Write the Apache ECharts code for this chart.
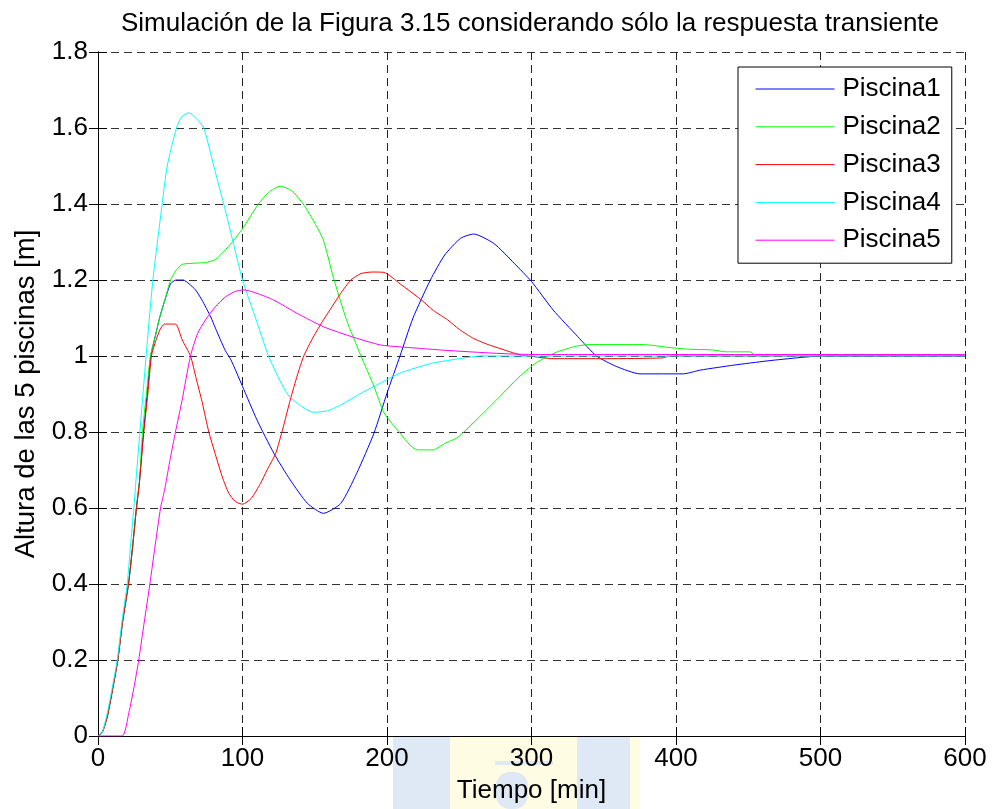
<!DOCTYPE html>
<html>
<head>
<meta charset="utf-8">
<title>Piscinas</title>
<script src="https://cdn.jsdelivr.net/npm/echarts@6/dist/echarts.min.js"></script>
<style>
  html, body { margin: 0; padding: 0; background: #fff; }
  #chart { width: 993px; height: 809px; }
</style>
</head>
<body>
<div id="chart"></div>
<script>
// tick labels of the axes
var xTicks = [0, 100, 200, 300, 400, 500, 600];
var yTicks = [0, 0.2, 0.4, 0.6, 0.8, 1, 1.2, 1.4, 1.6, 1.8];

var seriesNames = ["Piscina1", "Piscina2", "Piscina3", "Piscina4", "Piscina5"];

// [tiempo (min), altura (m)]
var piscina1 = [[0,0],[3,0.01],[6.4,0.05],[9,0.1],[13.7,0.2],[17,0.3],[21.1,0.4],[24,0.5],[26.6,0.6],[28.7,0.67],
  [31.5,0.8],[34,0.9],[36.5,1.0],[39.5,1.05],[42.6,1.1],[46.5,1.15],[50.2,1.19],[54,1.2],[59,1.2],[63,1.19],
  [67.5,1.174],[72,1.147],[78,1.103],[81.3,1.073],[88,1.015],[92,0.99],[100,0.92],[110,0.832],[121.7,0.744],
  [133,0.674],[145,0.612],[156,0.586],[168,0.612],[179,0.691],[191,0.797],[200,0.902],[209,1.0],[218,1.1],
  [230,1.2],[240,1.266],[251,1.31],[260,1.321],[274,1.296],[288,1.244],[300,1.196],[315,1.121],[332,1.051],
  [345,1.0],[359,0.972],[375,0.953],[405,0.953],[417,0.963],[440,0.976],[463,0.987],[486,0.996],[500,1.0],[600,1.0]];

var piscina2 = [[0,0],[3,0.01],[6.4,0.05],[9,0.1],[13.7,0.2],[17,0.3],[21.1,0.4],[24,0.5],[26.6,0.6],[28.7,0.67],
  [30.8,0.8],[33.5,0.9],[36.3,1.0],[39.5,1.05],[42.6,1.1],[46.5,1.15],[50.2,1.2],[54,1.225],[58.3,1.241],
  [65,1.244],[74.4,1.246],[81.3,1.254],[87,1.275],[93,1.3],[100,1.335],[111,1.4],[118,1.43],[126,1.447],
  [134,1.435],[142,1.4],[150,1.35],[156,1.305],[163,1.205],[172,1.095],[182,1.0],[191,0.92],[198,0.85],
  [209,0.797],[216,0.765],[221,0.753],[232,0.753],[240,0.77],[249,0.786],[264,0.84],[278,0.893],[290,0.94],
  [302,0.979],[310,0.997],[318,1.011],[330,1.025],[339,1.03],[378,1.03],[394,1.023],[408,1.018],[425,1.016],
  [435,1.011],[451,1.011],[455,1.003],[600,1.003]];

var piscina3 = [[0,0],[3,0.01],[6.4,0.05],[9,0.1],[13.7,0.2],[17,0.3],[21.1,0.4],[24,0.5],[26.6,0.6],[28.5,0.66],
  [31.7,0.8],[34.5,0.9],[37,1.0],[40,1.04],[43,1.07],[46,1.084],[53.6,1.084],[58.3,1.042],[64,1.0],[68,0.94],
  [72,0.88],[76.7,0.8],[81.3,0.74],[86,0.682],[90.5,0.639],[95,0.617],[100,0.61],[106,0.625],[112.5,0.665],
  [117,0.7],[123,0.744],[128,0.81],[133,0.884],[138,0.95],[142.4,1.0],[149,1.05],[156,1.095],[162,1.13],
  [168,1.165],[175,1.2],[182,1.217],[190,1.221],[198,1.22],[209,1.19],[223,1.15],[232,1.12],[242,1.095],
  [250,1.07],[260,1.046],[270,1.03],[278,1.02],[292,1.003],[302,0.998],[315,0.993],[352,0.993],[391,0.995],
  [395,1.0],[600,1.0]];

var piscina4 = [[0,0],[3,0.01],[6.4,0.06],[8.7,0.104],[13.3,0.2],[16.7,0.305],[20.2,0.4],[22.5,0.5],[24.8,0.6],
  [26,0.66],[29,0.8],[33.3,1.0],[38,1.2],[44.4,1.4],[47.9,1.5],[54.3,1.6],[58,1.63],[63,1.64],[68,1.625],
  [73.2,1.6],[80.1,1.5],[87,1.4],[93.5,1.3],[100,1.2],[109,1.1],[118,1.0],[124,0.95],[131,0.9],[138,0.875],
  [149,0.852],[158,0.855],[168,0.871],[182,0.902],[195,0.928],[209,0.955],[230,0.98],[245,0.99],[265,1.0],[600,1.0]];

var piscina5 = [[0,0],[16.7,0],[21.3,0.06],[25,0.13],[28.2,0.2],[32,0.3],[35.9,0.4],[39.5,0.5],[43.3,0.6],
  [46.2,0.65],[50,0.73],[53.6,0.8],[58,0.88],[64,1.0],[69,1.06],[74.4,1.095],[81.3,1.13],[88,1.155],[95,1.17],
  [101,1.174],[110,1.165],[121.7,1.147],[137.9,1.112],[156,1.077],[177,1.049],[195.5,1.029],[209,1.024],
  [223,1.02],[240,1.015],[276,1.007],[300,1.004],[600,1.004]];

var allData = [piscina1, piscina2, piscina3, piscina4, piscina5];
var colors = ["#0000ff", "#00ff00", "#ff0000", "#00ffff", "#ff00ff"];

var font = "Liberation Sans, Arial, Helvetica, sans-serif";

var chart = echarts.init(document.getElementById("chart"), null, { renderer: "canvas" });

var series = [];
var legendData = [];
for (var i = 0; i < allData.length; i++) {
  series.push({
    name: seriesNames[i],
    type: "line",
    data: allData[i],
    symbol: "none",
    smooth: 0.2,
    lineStyle: { color: colors[i], width: 1 },
    itemStyle: { color: colors[i] },
    animation: false
  });
  legendData.push({
    name: seriesNames[i],
    itemStyle: { color: colors[i], opacity: 0 }, // only the line, no marker
    lineStyle: { color: colors[i], width: 1 }
  });
}

var option = {
  backgroundColor: "#fff",
  animation: false,
  title: {
    text: "Simulación de la Figura 3.15 considerando sólo la respuesta transiente",
    left: 116,
    top: 6,
    textStyle: { fontFamily: font, fontSize: 26, fontWeight: "normal", color: "#000" }
  },
  legend: {
    orient: "vertical",
    left: 738,
    top: 67,
    padding: [9, 11, 10, 17],
    itemWidth: 79,
    itemHeight: 26,
    itemGap: 11.8,
    backgroundColor: "#fff",
    borderColor: "#000",
    borderWidth: 1,
    borderRadius: 0,
    data: legendData,
    textStyle: { fontFamily: font, fontSize: 26, color: "#000", padding: [0, 0, 0, 3] }
  },
  grid: { left: 98, right: 28, top: 52, bottom: 73, containLabel: false },
  xAxis: [{
    type: "value",
    min: xTicks[0],
    max: xTicks[xTicks.length - 1],
    interval: 100,
    name: "Tiempo [min]",
    nameLocation: "middle",
    nameGap: 42,
    nameTextStyle: { fontFamily: font, fontSize: 26, color: "#000" },
    axisLine: { lineStyle: { color: "#000", width: 1 } },
    axisTick: { inside: true, length: 9, lineStyle: { color: "#000" } },
    axisLabel: { fontFamily: font, fontSize: 26, color: "#000", margin: 10 },
    splitLine: { show: true, lineStyle: { color: "#222", type: [8, 5], width: 1 } }
  }, {
    type: "value",
    position: "top",
    min: xTicks[0],
    max: xTicks[xTicks.length - 1],
    interval: 100,
    axisLine: { show: true, lineStyle: { color: "#000", width: 1 } },
    axisTick: { show: true, inside: true, length: 9, lineStyle: { color: "#000" } },
    axisLabel: { show: false },
    splitLine: { show: false }
  }],
  yAxis: [{
    type: "value",
    min: yTicks[0],
    max: yTicks[yTicks.length - 1],
    interval: 0.2,
    name: "Altura de las 5 piscinas [m]",
    nameLocation: "middle",
    nameGap: 58,
    nameTextStyle: { fontFamily: font, fontSize: 27.5, color: "#000" },
    axisLine: { show: true, lineStyle: { color: "#000", width: 1 } },
    axisTick: { show: true, inside: true, length: 9, lineStyle: { color: "#000" } },
    axisLabel: { fontFamily: font, fontSize: 26, color: "#000", margin: 10 },
    splitLine: { show: true, lineStyle: { color: "#333", type: [8, 5], width: 1 } }
  }, {
    type: "value",
    position: "right",
    min: yTicks[0],
    max: yTicks[yTicks.length - 1],
    interval: 0.2,
    axisLine: { show: true, lineStyle: { color: "#000", width: 1 } },
    axisTick: { show: true, inside: true, length: 9, lineStyle: { color: "#000" } },
    axisLabel: { show: false },
    splitLine: { show: false }
  }],
  // faint watermark behind the x axis name
  graphic: [
    { type: "rect", z: -10, shape: { x: 393, y: 737, width: 57, height: 72 }, style: { fill: "#dfe8f5" } },
    { type: "rect", z: -10, shape: { x: 450, y: 737, width: 127, height: 72 }, style: { fill: "#fffce4" } },
    { type: "rect", z: -10, shape: { x: 577, y: 737, width: 53, height: 72 }, style: { fill: "#dfe8f5" } },
    { type: "rect", z: -10, shape: { x: 630, y: 737, width: 10, height: 72 }, style: { fill: "#fffce4" } },
    { type: "rect", z: -9, shape: { x: 495, y: 761, width: 58, height: 4 }, style: { fill: "#dfe8f5" } },
    { type: "rect", z: -9, shape: { x: 496, y: 772, width: 32, height: 37, r: 14 }, style: { fill: "#dfe8f5" } }
  ],
  series: series
};

chart.setOption(option);
</script>
</body>
</html>
